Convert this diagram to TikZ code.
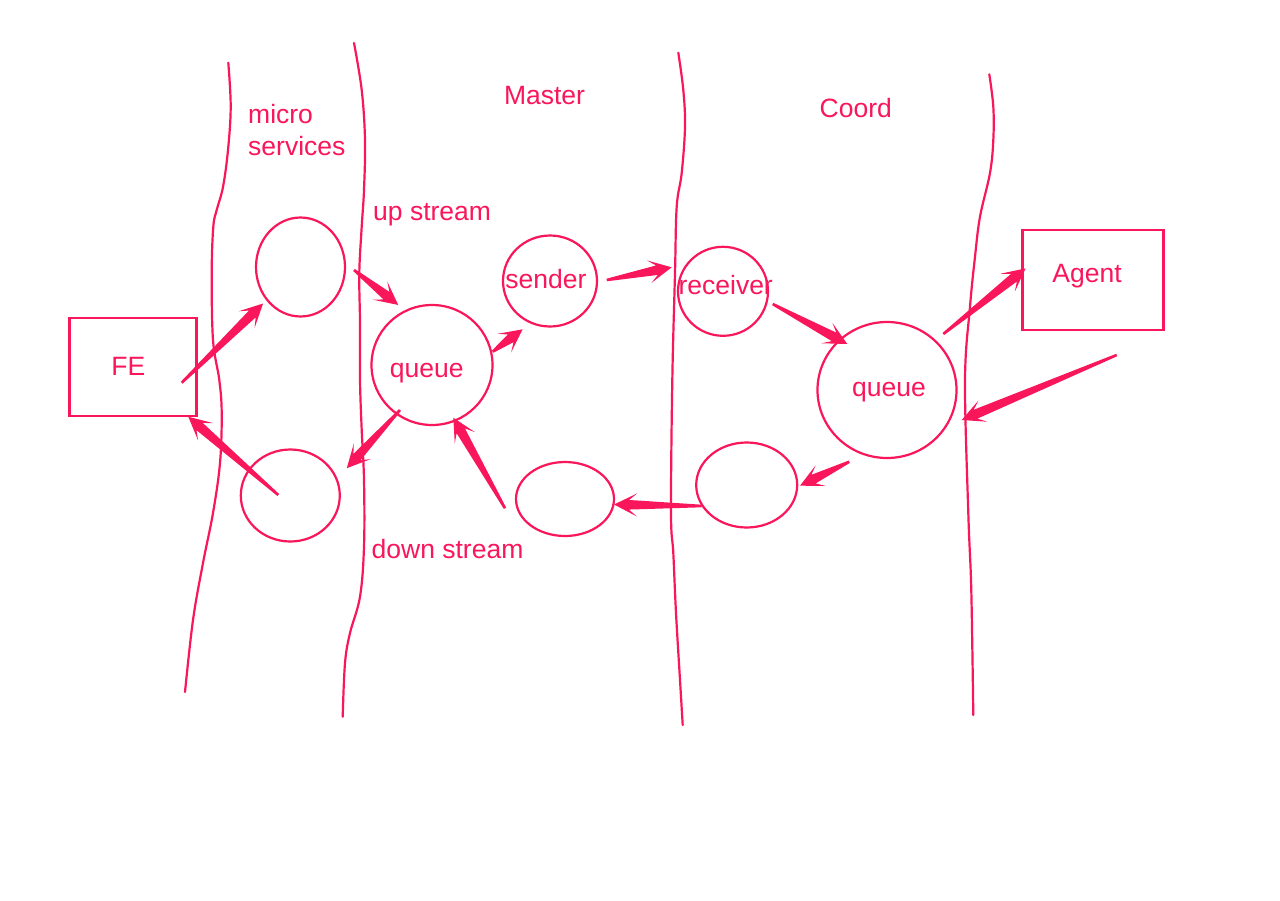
\documentclass[tikz,border=0pt]{standalone}
\usepackage{fontspec}
\setmainfont{Liberation Sans}
\usetikzlibrary{shapes.geometric,calc}
\definecolor{pk}{RGB}{250,22,90}
\newcommand\labfont{\fontsize{26.5}{31}\selectfont}
\newcommand\fatarrow[2]{%
  \path #1 coordinate (fatA) #2 coordinate (fatB);%
  \pgfpointdiff{\pgfpointanchor{fatA}{center}}{\pgfpointanchor{fatB}{center}}%
  \pgfgetlastxy\fdx\fdy
  \pgfmathsetmacro\fang{atan2(\fdy,\fdx)}%
  \pgfmathsetmacro\flen{veclen(\fdx,\fdy)}%
  \fill[pk, shift={(fatA)}, rotate=\fang, x=1pt, y=1pt]
    (0,1.3) -- (\flen-15,4.8) -- (\flen-23,11.5) -- (\flen,0) -- (\flen-23,-11.5) -- (\flen-15,-4.8) -- (0,-1.3) -- cycle;}
\tikzset{
  wline/.style={draw=pk, line width=2.2pt, line cap=round},
  ell/.style={ellipse, draw=pk, line width=2.2pt, inner sep=0pt},
  box/.style={rectangle, draw=pk, line width=2.2pt, inner sep=0pt},
  lbl/.style={text=pk, font=\labfont, inner sep=0pt},
}
\begin{document}
\begin{tikzpicture}[x=1pt, y=-1pt]
\path[use as bounding box, fill=white] (0,0) rectangle (1280,900);

% swim-lane lines
\draw[wline] plot[smooth, tension=0.6] coordinates {(228.3,62.7) (230.7,106.7) (228,150) (223,187) (216.7,210) (213.3,226.7) (211.7,273) (213,340) (219.3,380) (221.7,413) (220,463) (213,513) (203,563) (193,620) (185,692)};
\draw[wline] plot[smooth, tension=0.6] coordinates {(354,43) (361.7,90) (365,140) (364,190) (361.7,226.7) (359.3,273) (360,323) (360,380) (361.7,430) (364,480) (364,546.7) (360,596.7) (350,633) (345,663) (342.7,716.7)};
\draw[wline] plot[smooth, tension=0.6] coordinates {(678.3,52.7) (683.3,90) (685,126.7) (681.7,173) (676.7,206.7) (675,273) (672.3,380) (671,513) (673.3,553) (676,613) (680,680) (682.7,725)};
\draw[wline] plot[smooth, tension=0.6] coordinates {(989.3,74.3) (993.3,106.7) (993.3,140) (990,173) (980,216.7) (975,256.7) (970,306.7) (965,380) (968.3,513) (971,580) (972.3,646.7) (973.3,715)};

% nodes
\node[box, minimum width=127pt, minimum height=98pt] (fe) at (133,367) {};
\node[box, minimum width=141pt, minimum height=100pt] (ag) at (1093,279.7) {};
\node[ell, minimum width=89pt, minimum height=99pt] (um) at (300.5,267) {};
\node[ell, minimum width=99pt, minimum height=92pt] (lm) at (290.3,495.5) {};
\node[ell, minimum width=121pt, minimum height=120pt] (q1) at (432,365) {};
\node[ell, minimum width=94pt, minimum height=91pt] (snd) at (550,281) {};
\node[ell, minimum width=90pt, minimum height=89pt] (rcv) at (723,291.3) {};
\node[ell, minimum width=139pt, minimum height=136pt] (q2) at (887,390) {};
\node[ell, minimum width=101pt, minimum height=85pt] (lr) at (746.7,485) {};
\node[ell, minimum width=98pt, minimum height=74pt] (lmid) at (565,499) {};

% labels
\node[lbl] (tfe) at (128.3,366.5) {FE};
\node[lbl] (tag) at (1087,276) {Agent};
\node[lbl] (tq1) at (426.7,373.3) {queue};
\node[lbl] (tsnd) at (546,278.7) {sender};
\node[lbl] (trcv) at (725.7,285.3) {receiver};
\node[lbl] (tq2) at (889,391.7) {queue};
\node[lbl] (tmaster) at (544.5,96) {Master};
\node[lbl] (tcoord) at (855.8,108.3) {Coord};
\node[lbl, anchor=base west] (tmicro) at (248,123.3) {micro};
\node[lbl, anchor=base west] (tserv) at (248,155) {services};
\node[lbl, anchor=base west] (tup) at (373,220.5) {up stream};
\node[lbl, anchor=base west] (tdown) at (371.5,558.5) {down stream};

% connectors
\fatarrow{($(fe)+(48.7,15.7)$)}{($(um)+(-37.2,36.3)$)}
\fatarrow{($(lm)+(-12,-0.5)$)}{($(fe)+(55.3,49.7)$)}
\fatarrow{($(um)+(53.5,3)$)}{($(q1)+(-33.7,-60)$)}
\fatarrow{($(q1)+(-32,45)$)}{($(lm)+(56.4,-27.2)$)}
\fatarrow{($(q1)+(60.7,-13.3)$)}{($(snd)+(-27.3,48.3)$)}
\fatarrow{($(snd)+(56.7,-1)$)}{($(rcv)+(-51.3,-24)$)}
\fatarrow{($(rcv)+(49.7,12.7)$)}{($(q2)+(-39.7,-46)$)}
\fatarrow{($(q2)+(56.3,-56)$)}{($(ag)+(-67.3,-11.4)$)}
\fatarrow{($(ag)+(23.7,75.3)$)}{($(q2)+(74.7,30)$)}
\fatarrow{($(q2)+(-37.7,71.7)$)}{($(lr)+(53.3,0.7)$)}
\fatarrow{($(lr)+(-45,21)$)}{($(lmid)+(49,5.5)$)}
\fatarrow{($(lmid)+(-60,9.3)$)}{($(q1)+(21.3,52.7)$)}
\end{tikzpicture}
\end{document}
